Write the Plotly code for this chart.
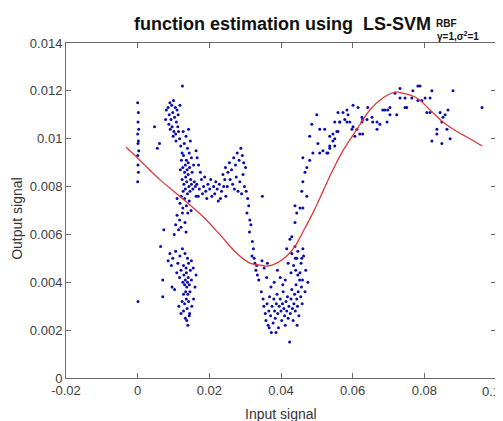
import plotly.graph_objects as go

# ---- scatter data ----
col0_x = [0.0000,0.0002,0.0001,0.0003,0.0000,0.0002,0.0001,0.0003,0.0000,0.0001,0.0002,0.0000,0.0001]
col0_y = [0.0115,0.0111,0.0107,0.0104,0.0102,0.0099,0.0098,0.0095,0.0093,0.0089,0.0086,0.0082,0.0032]

upper_x = [0.0085,0.0090,0.0095,0.0100,0.0105,0.0110,0.0088,0.0093,0.0098,0.0103,0.0108,0.0113,0.0080,0.0118,0.0096,0.0101,0.0091,0.0106,0.0112,0.0117,0.0120,0.0107,0.0099,0.0087,0.0114,0.0125,0.0047,0.0061,0.0055,0.0078]
upper_y = [0.0113,0.0115,0.0114,0.0116,0.0113,0.0112,0.0110,0.0108,0.0111,0.0109,0.0107,0.0110,0.0112,0.0114,0.0105,0.0103,0.0104,0.0102,0.0105,0.0100,0.0097,0.0099,0.0101,0.0106,0.0103,0.0122,0.0105,0.0098,0.0096,0.0108]

desc_x = [0.0127,0.0135,0.0142,0.0130,0.0139,0.0147,0.0124,
          0.0128,0.0136,0.0144,0.0150,0.0133,0.0141,0.0122,
          0.0126,0.0131,0.0138,0.0145,0.0152,0.0119,0.0134,0.0148,0.0141,0.0156,
          0.0124,0.0129,0.0137,0.0143,0.0150,0.0158,0.0133,0.0146,0.0127,0.0139,0.0154,0.0161,
          0.0122,0.0131,0.0144,0.0136,0.0126,0.0149,0.0118,0.0140,0.0110,0.0163,
          0.0110,0.0117,0.0125,0.0106,0.0114,0.0121,0.0132,0.0102,0.0135]
desc_y = [0.0103,0.0101,0.0104,0.0098,0.0096,0.0099,0.0094,
          0.0093,0.0091,0.0094,0.0092,0.0089,0.0090,0.0091,
          0.0088,0.0086,0.0087,0.0088,0.0086,0.0087,0.0084,0.0083,0.0085,0.0089,
          0.0083,0.0081,0.0082,0.0080,0.0081,0.0082,0.0079,0.0078,0.0078,0.0077,0.0079,0.0080,
          0.0076,0.0075,0.0074,0.0072,0.0071,0.0070,0.0073,0.0069,0.0075,0.0076,
          0.0068,0.0066,0.0069,0.0064,0.0062,0.0063,0.0065,0.0060,0.0061]

low_x = [0.0090,0.0098,0.0106,0.0094,0.0085,0.0112,0.0118,0.0125,0.0132,0.0139,0.0128,0.0135,0.0142,0.0150,
         0.0121,0.0129,0.0136,0.0141,0.0147,0.0155,0.0133,0.0139,0.0131,0.0137,0.0144,0.0126,0.0150,0.0117,
         0.0109,0.0134,0.0140,0.0128,0.0146,0.0136,0.0131,0.0142,0.0124,0.0138,0.0128,0.0145,0.0151,0.0115,
         0.0133,0.0140,0.0121,0.0156,0.0160,0.0163,0.0103,0.0096,0.0070,0.0070,0.0073,0.0064,0.0144,0.0137]
low_y = [0.0052,0.0050,0.0053,0.0047,0.0049,0.0048,0.0051,0.0054,0.0052,0.0050,0.0047,0.0046,0.0048,0.0049,
         0.0045,0.0043,0.0044,0.0042,0.0045,0.0046,0.0041,0.0040,0.0039,0.0038,0.0039,0.0040,0.0041,0.0042,
         0.0044,0.0036,0.0035,0.0035,0.0036,0.0033,0.0031,0.0032,0.0032,0.0029,0.0028,0.0027,0.0030,0.0030,
         0.0025,0.0022,0.0027,0.0033,0.0038,0.0043,0.0037,0.0038,0.0041,0.0034,0.0062,0.0055,0.0026,0.0024]

band_x = [0.0165,0.0172,0.0178,0.0184,0.0190,0.0196,0.0201,0.0207,0.0212,0.0218,0.0169,0.0181,0.0193,0.0204,
          0.0175,0.0187,0.0215,0.0222,0.0228,0.0234,0.0240,0.0246,0.0231,0.0243,0.0225,0.0166,0.0170,0.0163,
          0.0238,0.0245,0.0252,0.0256,0.0262,0.0268,0.0273,0.0278,0.0283,0.0288,0.0292,0.0296,0.0258,0.0265,
          0.0275,0.0285,0.0294,0.0301,0.0250,0.0270,0.0280,0.0290,
          0.0298,0.0303,0.0307,0.0310,0.0305,0.0313,0.0316,0.0312,0.0320,0.0323,0.0319,0.0327,0.0330,0.0334,
          0.0338,0.0325,0.0332,0.0348]
band_y = [0.0081,0.0079,0.0083,0.0080,0.0078,0.0081,0.0079,0.0076,0.0080,0.0082,0.0076,0.0077,0.0075,0.0083,
          0.0086,0.0084,0.0077,0.0079,0.0081,0.0078,0.0080,0.0076,0.0075,0.0083,0.0074,0.0092,0.0089,0.0095,
          0.0085,0.0088,0.0086,0.0090,0.0087,0.0092,0.0089,0.0094,0.0091,0.0096,0.0093,0.0090,0.0083,0.0081,
          0.0084,0.0082,0.0085,0.0088,0.0080,0.0079,0.0078,0.0077,
          0.0080,0.0078,0.0075,0.0072,0.0069,0.0066,0.0064,0.0061,0.0057,0.0054,0.0051,0.0048,0.0045,0.0043,
          0.0041,0.0050,0.0047,0.0076]

bottom_x = [0.0345,0.0350,0.0352,0.0356,0.0358,0.0361,0.0364,0.0366,0.0368,0.0371,0.0373,0.0375,0.0378,0.0380,
            0.0382,0.0384,0.0387,0.0389,0.0391,0.0393,0.0395,0.0398,0.0400,0.0402,0.0404,0.0406,0.0408,0.0410,
            0.0412,0.0414,0.0416,0.0418,0.0420,0.0422,0.0424,0.0426,0.0428,0.0430,0.0432,0.0434,0.0436,0.0438,
            0.0440,0.0442,0.0444,0.0446,0.0448,0.0450,0.0452,0.0455,0.0457,0.0447,0.0441,0.0435,0.0428,0.0420,
            0.0412,0.0405,0.0398,0.0390,0.0381,0.0372,0.0360,0.0353,0.0347,0.0362,0.0440,0.0447,0.0456,0.0463,
            0.0460,0.0469,0.0475,0.0467,0.0459,0.0453,0.0445,0.0386,0.0367]
bottom_y = [0.0036,0.0033,0.0030,0.0027,0.0024,0.0031,0.0022,0.0028,0.0034,0.0026,0.0019,0.0030,0.0023,0.0033,
            0.0028,0.0025,0.0031,0.0035,0.0027,0.0021,0.0030,0.0033,0.0028,0.0024,0.0031,0.0036,0.0029,0.0026,
            0.0022,0.0032,0.0028,0.0034,0.0025,0.0030,0.0015,0.0027,0.0033,0.0037,0.0029,0.0024,0.0031,0.0035,
            0.0028,0.0039,0.0033,0.0030,0.0036,0.0026,0.0041,0.0034,0.0038,0.0043,0.0045,0.0047,0.0044,0.0048,
            0.0041,0.0039,0.0042,0.0045,0.0040,0.0038,0.0042,0.0046,0.0049,0.0048,0.0050,0.0053,0.0048,0.0051,
            0.0041,0.0045,0.0040,0.0036,0.0031,0.0044,0.0022,0.0019,0.0021]

rise_x = [0.0430,0.0439,0.0444,0.0439,0.0453,0.0461,0.0458,0.0472,0.0461,0.0467,0.0472,0.0480,0.0461,0.0489,
          0.0508,0.0517,0.0528,0.0531,0.0536,0.0503,0.0480,0.0486,0.0500,0.0508,0.0522,0.0536,0.0545,0.0550,
          0.0559,0.0564,0.0573,0.0584,0.0587,0.0559,0.0578,0.0592,0.0598,0.0601,0.0612,0.0606,0.0620,0.0628,
          0.0626,0.0628,0.0601,0.0615,
          0.0425,0.0416,0.0430,0.0439,0.0461,0.0444,0.0458]
rise_y = [0.0059,0.0065,0.0069,0.0072,0.0071,0.0071,0.0078,0.0076,0.0082,0.0086,0.0088,0.0091,0.0092,0.0094,
          0.0094,0.0095,0.0094,0.0094,0.0096,0.0098,0.0101,0.0106,0.0110,0.0104,0.0104,0.0101,0.0102,0.0100,
          0.0103,0.0107,0.0111,0.0112,0.0110,0.0111,0.0108,0.0107,0.0104,0.0105,0.0104,0.0101,0.0102,0.0102,
          0.0109,0.0108,0.0114,0.0113,
          0.0058,0.0054,0.0052,0.0055,0.0054,0.0050,0.0050]

plateau_x = [0.0550,0.0564,0.0584,0.0545,0.0556,0.0536,0.0550,0.0626,0.0640,0.0642,0.0654,0.0656,0.0668,0.0676,
             0.0684,0.0690,0.0698,0.0704,0.0696,0.0668,0.0704,0.0723]
plateau_y = [0.0107,0.0107,0.0107,0.0099,0.0103,0.0097,0.0097,0.0107,0.0108,0.0113,0.0109,0.0107,0.0104,0.0106,
             0.0112,0.0112,0.0112,0.0113,0.0107,0.0107,0.0110,0.0110]

peak_x = [0.0718,0.0732,0.0732,0.0746,0.0751,0.0746,0.0765,0.0768,0.0782,0.0788,0.0782,0.0793,0.0802,0.0816,
          0.0821,0.0807,0.0816,0.0844,0.0866,0.0858,0.0852,0.0849,0.0835,0.0863,0.0835,0.0821,0.0849,0.0872,
          0.0880,0.0961]
peak_y = [0.0119,0.0121,0.0117,0.0117,0.0113,0.0113,0.0117,0.0120,0.0122,0.0122,0.0116,0.0116,0.0117,0.0117,
          0.0120,0.0111,0.0111,0.0111,0.0112,0.0110,0.0109,0.0107,0.0104,0.0104,0.0102,0.0099,0.0098,0.0100,
          0.0120,0.0113]

# ---- estimated function (red curve) ----
curve_x = [-0.0032,0.0006,0.0061,0.0117,0.0182,0.0229,0.0277,0.0313,0.0341,0.0363,0.0388,0.0416,0.0439,0.0461,
           0.0489,0.0517,0.0545,0.0573,0.0612,0.0648,0.0684,0.0718,0.0740,0.0779,0.0816,0.0852,0.0891,0.0927,0.0961]
curve_y = [0.00964,0.0091,0.0083,0.0076,0.00675,0.0060,0.0052,0.0048,0.00472,0.00468,0.0048,0.0051,0.0055,0.0061,
           0.0069,0.0078,0.0087,0.0095,0.0104,0.0112,0.0117,0.01195,0.0119,0.0117,0.0112,0.0107,0.0103,0.0100,0.0097]

x_ticks = [-0.02, 0, 0.02, 0.04, 0.06, 0.08, 0.1]
x_tick_labels = ["-0.02", "0", "0.02", "0.04", "0.06", "0.08", "0.1"]
y_ticks = [0, 0.002, 0.004, 0.006, 0.008, 0.01, 0.012, 0.014]
y_tick_labels = ["0", "0.002", "0.004", "0.006", "0.008", "0.01", "0.012", "0.014"]

all_x = col0_x + upper_x + desc_x + low_x + band_x + bottom_x + rise_x + plateau_x + peak_x
all_y = col0_y + upper_y + desc_y + low_y + band_y + bottom_y + rise_y + plateau_y + peak_y

fig = go.Figure()
fig.add_trace(go.Scatter(x=all_x, y=all_y, mode="markers",
                         marker=dict(size=3, color="#0c0cae", line=dict(width=0)),
                         showlegend=False))
fig.add_trace(go.Scatter(x=curve_x, y=curve_y, mode="lines", line_shape="spline",
                         line=dict(color="#e03a3a", width=1.3), showlegend=False))

font_family = "Liberation Sans, Arial, sans-serif"
tick_font = dict(family=font_family, size=13, color="#404040")
axis_common = dict(showline=True, linecolor="#6a6a6a", linewidth=1, mirror="ticks",
                   ticks="inside", ticklen=5, tickcolor="#6a6a6a", showgrid=False, zeroline=False,
                   automargin=False, tickfont=tick_font)
# the last x label sits at the window edge; it is drawn as an annotation so it stays visible
shown_x_labels = x_tick_labels[:-1] + [""]
fig.update_xaxes(range=[-0.02, 0.1], tickvals=x_ticks, ticktext=shown_x_labels, **axis_common)
fig.update_yaxes(range=[0, 0.014], tickvals=y_ticks, ticktext=y_tick_labels, **axis_common)

# page body has an 8px margin, so the figure is sized to fit the window
fig.update_layout(width=495, height=413, margin=dict(l=58, r=7, t=35, b=43),
                  plot_bgcolor="white", paper_bgcolor="white",
                  font=dict(family=font_family))

fig.add_annotation(text=x_tick_labels[-1], xref="x", yref="paper", x=x_ticks[-1], y=-0.012,
                   xanchor="right", yanchor="top", xshift=6, showarrow=False, font=tick_font)

# axis titles
fig.add_annotation(text="Input signal", xref="paper", yref="paper", x=0.5, y=-0.107,
                   xanchor="center", yanchor="middle", showarrow=False,
                   font=dict(family=font_family, size=14, color="#333333"))
fig.add_annotation(text="Output signal", xref="paper", yref="paper", x=-0.114, y=0.478,
                   xanchor="center", yanchor="middle", textangle=-90, showarrow=False,
                   font=dict(family=font_family, size=14, color="#333333"))

# title
fig.add_annotation(text="<b>function estimation using  LS-SVM</b>", xref="paper", yref="paper",
                   x=0.8535, y=1.0567, xanchor="right", yanchor="middle", showarrow=False,
                   font=dict(family=font_family, size=18, color="#111111"))
fig.add_annotation(text="<b>RBF</b>", xref="paper", yref="paper",
                   x=0.856, y=1.059, xanchor="left", yanchor="middle", showarrow=False,
                   font=dict(family=font_family, size=10, color="#111111"))
fig.add_annotation(text="<b>γ=1,σ<sup>2</sup>=1</b>", xref="paper", yref="paper",
                   x=0.858, y=1.022, xanchor="left", yanchor="middle", showarrow=False,
                   font=dict(family=font_family, size=10, color="#111111"))

fig.write_html("out.html")
